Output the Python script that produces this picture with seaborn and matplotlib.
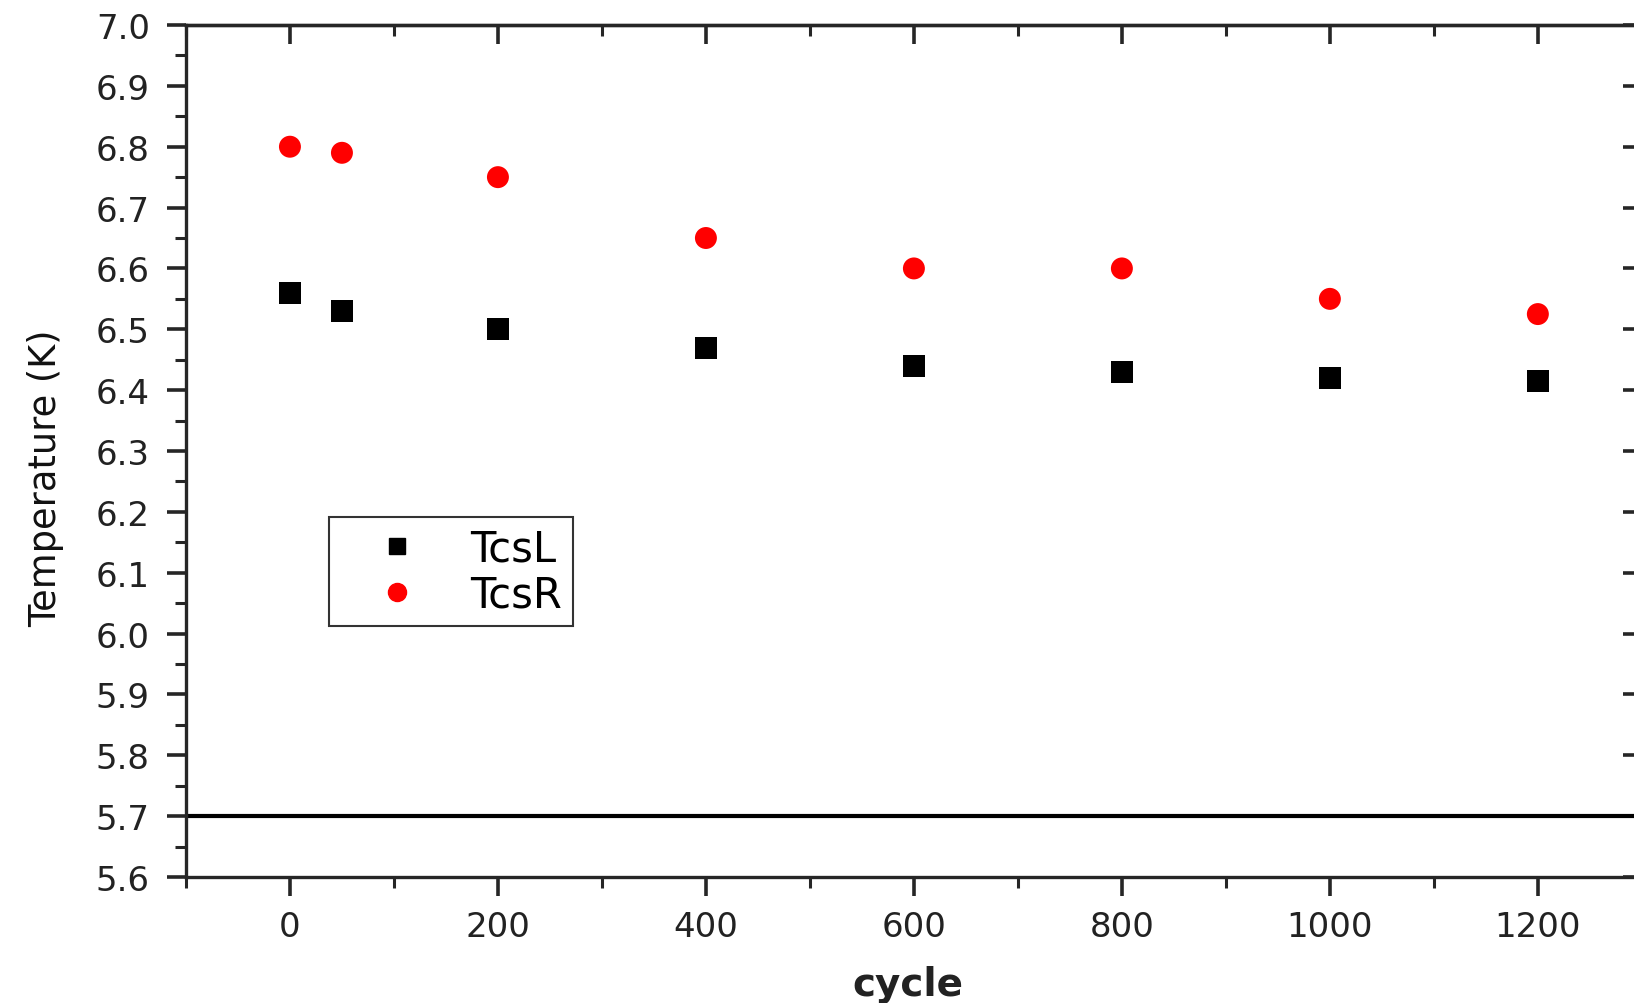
import numpy as np
import pandas as pd
import matplotlib
matplotlib.use('Agg')
import matplotlib.pyplot as plt
import seaborn as sns
from matplotlib.ticker import MultipleLocator

# data
cycles = [0, 50, 200, 400, 600, 800, 1000, 1200]
tcs_l = [6.56, 6.53, 6.50, 6.47, 6.44, 6.43, 6.42, 6.415]
tcs_r = [6.80, 6.79, 6.75, 6.65, 6.60, 6.60, 6.55, 6.525]
series = ['TcsL', 'TcsR']

df = pd.DataFrame({
    'cycle': cycles * 2,
    'T': tcs_l + tcs_r,
    'series': ['TcsL'] * len(cycles) + ['TcsR'] * len(cycles),
})

sns.set_style('ticks')
plt.rcParams['font.family'] = ['DejaVu Sans']

fig = plt.figure(figsize=(16.34, 10.04), dpi=100)
ax = fig.add_axes([0.1138, 0.1255, 0.891, 0.8486])

sns.scatterplot(data=df, x='cycle', y='T', hue='series', style='series',
                markers={'TcsL': 's', 'TcsR': 'o'},
                palette={'TcsL': 'black', 'TcsR': 'red'},
                s=250, edgecolor='none', ax=ax, legend=False)

ax.axhline(5.7, color='black', lw=3)

ax.set_xlim(-100, 1300)
ax.set_ylim(5.6, 7.0)
ax.xaxis.set_major_locator(MultipleLocator(200))
ax.xaxis.set_minor_locator(MultipleLocator(100))
ax.yaxis.set_major_locator(MultipleLocator(0.1))
ax.yaxis.set_minor_locator(MultipleLocator(0.05))
ax.yaxis.set_major_formatter(matplotlib.ticker.FormatStrFormatter('%.1f'))

for sp in ax.spines.values():
    sp.set_linewidth(2.4)
    sp.set_visible(True)

ax.tick_params(which='major', direction='out', length=14, width=2.6,
               labelsize=24.5, labelcolor='#222222')
ax.tick_params(which='minor', direction='out', length=8, width=2.2)
ax.tick_params(axis='y', which='major', pad=12)
ax.tick_params(axis='x', which='major', pad=10)

# top and right ticks point inward
top = ax.secondary_xaxis('top')
top.xaxis.set_major_locator(MultipleLocator(200))
top.xaxis.set_minor_locator(MultipleLocator(100))
top.tick_params(which='major', direction='in', length=14, width=2.6, labeltop=False)
top.tick_params(which='minor', direction='in', length=8, width=2.2)
top.spines['top'].set_linewidth(2.4)
right = ax.secondary_yaxis('right')
right.yaxis.set_major_locator(MultipleLocator(0.1))
right.yaxis.set_minor_locator(MultipleLocator(0.05))
right.tick_params(which='major', direction='in', length=14, width=2.6, labelright=False)
right.tick_params(which='minor', direction='in', length=4, width=2.2)
right.spines['right'].set_linewidth(2.4)

ax.set_xlabel('cycle', fontsize=28, fontweight='bold', color='#222222')
ax.xaxis.set_label_coords(0.496, -0.103)
ax.set_ylabel('Temperature (K)', fontsize=26.5, color='#111111')
ax.yaxis.set_label_coords(-0.084, 0.469)

handles = [
    plt.Line2D([], [], marker='s', color='black', ls='none', markersize=12),
    plt.Line2D([], [], marker='o', color='red', ls='none', markersize=13),
]
leg = ax.legend(handles, series, loc='upper left', bbox_to_anchor=(0.098, 0.4225),
                fontsize=30, frameon=True, fancybox=False, edgecolor='black',
                handletextpad=0.35, borderpad=0.25, labelspacing=0.1,
                borderaxespad=0, handlelength=2.8)
leg.get_frame().set_linewidth(1.5)
for t in leg.get_texts():
    t.set_color('black')

fig.savefig('out.png', dpi=100)
